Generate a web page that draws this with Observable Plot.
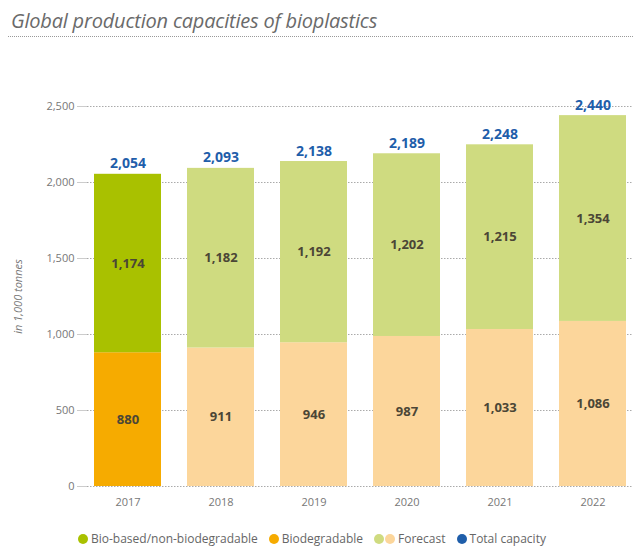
<!DOCTYPE html>
<html>
<head>
<meta charset="utf-8">
<script src="https://cdn.jsdelivr.net/npm/d3@7"></script>
<script src="https://cdn.jsdelivr.net/npm/@observablehq/plot@0.6"></script>
<style>
  body { margin: 0; background: #fff; font-family: "Open Sans", "Noto Sans", sans-serif; width: 633px; }
  #title { height: 37px; box-sizing: border-box; padding: 7px 0 0 3px; font-style: italic; font-size: 20px; color: #6a6a6a; border-bottom: 1px dotted #999; margin: 0 0 0 8px; letter-spacing: -0.2px; }
  #chart { margin-top: 13px; line-height: 0; }
  #chart svg [aria-label="y-axis label"] text { font-style: italic; }
  #legend { display: flex; align-items: center; font-size: 12px; line-height: 14px; color: #666; padding-left: 78px; margin-top: 12px; white-space: nowrap; }
  #legend .dot { display: inline-block; width: 10px; height: 10px; border-radius: 50%; margin-right: 1px; }
  #legend .item { display: flex; align-items: center; margin-right: 11px; }
</style>
</head>
<body>
<div id="title">Global production capacities of bioplastics</div>
<div id="chart"></div>
<div id="legend"></div>
<script>
const years = ["2017", "2018", "2019", "2020", "2021", "2022"];
const biodegradable = [880, 911, 946, 987, 1033, 1086];
const bioBased = [1174, 1182, 1192, 1202, 1215, 1354];
const totalCapacity = [2054, 2093, 2138, 2189, 2248, 2440];
const forecastFrom = "2018";
const yTicks = [0, 500, 1000, 1500, 2000, 2500];

const colors = {
  bioBased: "#a9c100",
  biodegradable: "#f6ab00",
  bioBasedForecast: "#cfdb80",
  biodegradableForecast: "#fcd69b",
  total: "#1f5eaa"
};

const rows = [];
years.forEach((y, i) => {
  const fc = y >= forecastFrom;
  rows.push({year: y, type: "Biodegradable", value: biodegradable[i], color: fc ? colors.biodegradableForecast : colors.biodegradable});
  rows.push({year: y, type: "Bio-based", value: bioBased[i], color: fc ? colors.bioBasedForecast : colors.bioBased});
});
const totals = years.map((y, i) => ({year: y, total: totalCapacity[i]}));

const fmt = d3.format(",");

const plot = Plot.plot({
  width: 633,
  height: 470,
  marginTop: 56,
  marginBottom: 34,
  marginLeft: 87,
  marginRight: 1,
  style: {fontFamily: "'Open Sans', 'Noto Sans', sans-serif", fontSize: "11px", color: "#777", background: "#fff"},
  x: {domain: years, paddingInner: 0.28, paddingOuter: 0.05, label: null},
  y: {domain: [0, 2500], ticks: yTicks, label: "in 1,000 tonnes"},
  color: {type: "identity"},
  marks: [
    Plot.gridY(yTicks, {stroke: "#aaa", strokeOpacity: 1, strokeDasharray: "1.5,1.5"}),
    Plot.axisY(yTicks, {tickFormat: fmt, tickSize: 10, tickPadding: 3, stroke: "#ccc", fill: "#777", fontSize: 11, label: "in 1,000 tonnes", labelAnchor: "center", labelOffset: 73, labelArrow: "none"}),
    Plot.axisX({tickSize: 0, tickPadding: 12, fill: "#777", fontSize: 11, label: null}),
    Plot.barY(rows, Plot.stackY({x: "year", y: "value", fill: "color"})),
    Plot.text(rows, Plot.stackY({x: "year", y: "value", text: d => fmt(d.value), fill: "#4b4636", fontWeight: "bold", fontSize: 13})),
    Plot.text(totals, {x: "year", y: "total", text: d => fmt(d.total), fill: colors.total, fontWeight: "bold", fontSize: 14, lineAnchor: "bottom", dy: -6})
  ]
});
document.getElementById("chart").appendChild(plot);

const legendItems = [
  {dots: [colors.bioBased], label: "Bio-based/non-biodegradable"},
  {dots: [colors.biodegradable], label: "Biodegradable"},
  {dots: [colors.bioBasedForecast, colors.biodegradableForecast], label: "Forecast"},
  {dots: [colors.total], label: "Total capacity"}
];
const legend = document.getElementById("legend");
legendItems.forEach(it => {
  const item = document.createElement("span");
  item.className = "item";
  it.dots.forEach(c => {
    const d = document.createElement("span");
    d.className = "dot";
    d.style.background = c;
    item.appendChild(d);
  });
  const t = document.createElement("span");
  t.textContent = it.label;
  t.style.marginLeft = "2px";
  item.appendChild(t);
  legend.appendChild(item);
});
</script>
</body>
</html>
